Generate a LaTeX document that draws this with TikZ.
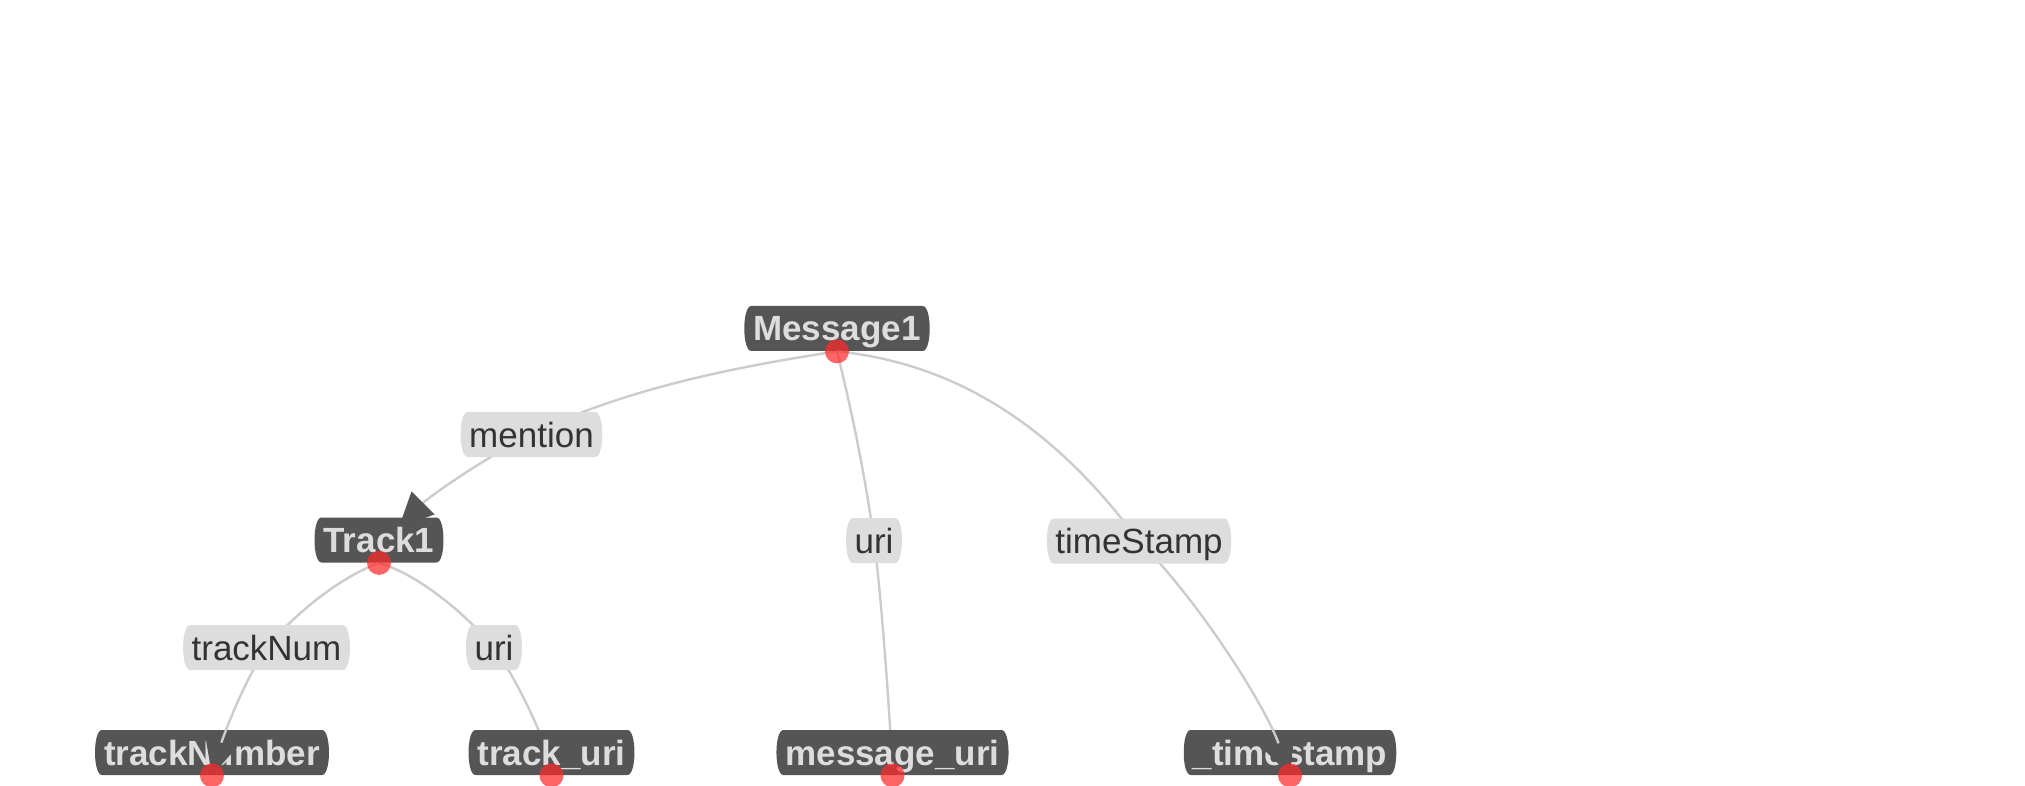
\documentclass[tikz,border=0pt]{standalone}
\usepackage{fontspec}
\setmainfont{Liberation Sans}
\usetikzlibrary{arrows.meta}
\definecolor{boxgray}{HTML}{555555}
\definecolor{boxtext}{HTML}{DDDDDD}
\definecolor{lblfill}{HTML}{DDDDDD}
\definecolor{lbltext}{HTML}{333333}
\definecolor{linkgray}{HTML}{CCCCCC}
\definecolor{dotred}{HTML}{FF2A2A}
\pgfdeclarelayer{lowedge}
\pgfdeclarelayer{topedge}
\pgfdeclarelayer{labels}
\pgfdeclarelayer{dots}
\pgfsetlayers{lowedge,main,topedge,labels,dots}
\begin{document}
\begin{tikzpicture}[x=0.5pt,y=-0.5pt,font=\fontsize{17.5}{20}\selectfont,
	barrel/.style={path picture={\fill[#1] ([xshift=3.5pt]path picture bounding box.north west) -- ([xshift=-3.5pt]path picture bounding box.north east) .. controls +(4.7pt,0pt) and +(4.7pt,0pt) .. ([xshift=-3.5pt]path picture bounding box.south east) -- ([xshift=3.5pt]path picture bounding box.south west) .. controls +(-4.7pt,0pt) and +(-4.7pt,0pt) .. ([xshift=3.5pt]path picture bounding box.north west) -- cycle;}},
	tag/.style={barrel=boxgray,text=boxtext,font=\fontsize{17.5}{20}\selectfont\bfseries,inner xsep=4.5pt,inner ysep=0pt,minimum height=22.5pt,text height=12.5pt,text depth=0pt},
	lbl/.style={barrel=lblfill,text=lbltext,inner xsep=4.25pt,inner ysep=0pt,minimum height=22.5pt,text height=12.5pt,text depth=0pt},
	rdot/.style={circle,fill=dotred,fill opacity=0.72,inner sep=0pt,minimum size=12pt},
	link/.style={draw=linkgray,line width=1.2pt},
	arrowlink/.style={link,-{Triangle[length=17pt,width=16pt,color=boxgray]}}]
	\useasboundingbox (0,0) rectangle (2025,786);
	\node[tag] (m1) at (837,328.5) {Message1};
	\node[tag] (t1) at (379,540) {Track1};
	\node[tag] (tn) at (212,752.5) {trackNumber};
	\node[tag] (tu) at (551.5,752.5) {track\_uri};
	\node[tag] (mu) at (892.5,752.5) {message\_uri};
	\node[tag] (ts) at (1290,752.5) {\_timestamp};
	\coordinate (t1in) at ([shift={(20,-13)}]t1.center);
	\begin{pgfonlayer}{labels}
		\node[lbl] (mention) at (531.5,434.5) {mention};
		\node[lbl] (uri1) at (874,540.5) {uri};
		\node[lbl] (ltime) at (1139,541) {timeStamp};
		\node[lbl] (lnum) at (266.5,647.5) {trackNum};
		\node[lbl] (uri2) at (494,647.5) {uri};
	\end{pgfonlayer}
	\begin{pgfonlayer}{dots}
		\foreach \n in {m1,t1,tn,tu,mu,ts}
			\node[rdot] (d\n) at (\n.south) {};
	\end{pgfonlayer}
	\begin{pgfonlayer}{lowedge}
		\draw[arrowlink] (dm1.center) .. controls +(-100,15) and +(90,-45) .. (mention.center) .. controls +(-50,25) and +(30,-30) .. (t1in);
		\draw[arrowlink] (dm1.center) .. controls +(15,60) and +(-8,-60) .. (uri1.center) .. controls +(8,60) and +(-3,-60) .. (dmu.center);
		\draw[arrowlink] (dt1.center) .. controls +(40,12) and +(-30,-35) .. (uri2.center) .. controls +(25,35) and +(-10,-40) .. (dtu.center);
	\end{pgfonlayer}
	\begin{pgfonlayer}{topedge}
		\draw[arrowlink] (dm1.center) .. controls +(150,15) and +(-60,-80) .. (ltime.center) .. controls +(60,60) and +(-25,-70) .. (dts.center);
		\draw[arrowlink] (dt1.center) .. controls +(-40,15) and +(30,-35) .. (lnum.center) .. controls +(-25,38) and +(10,-35) .. (dtn.center);
	\end{pgfonlayer}
\end{tikzpicture}
\end{document}
